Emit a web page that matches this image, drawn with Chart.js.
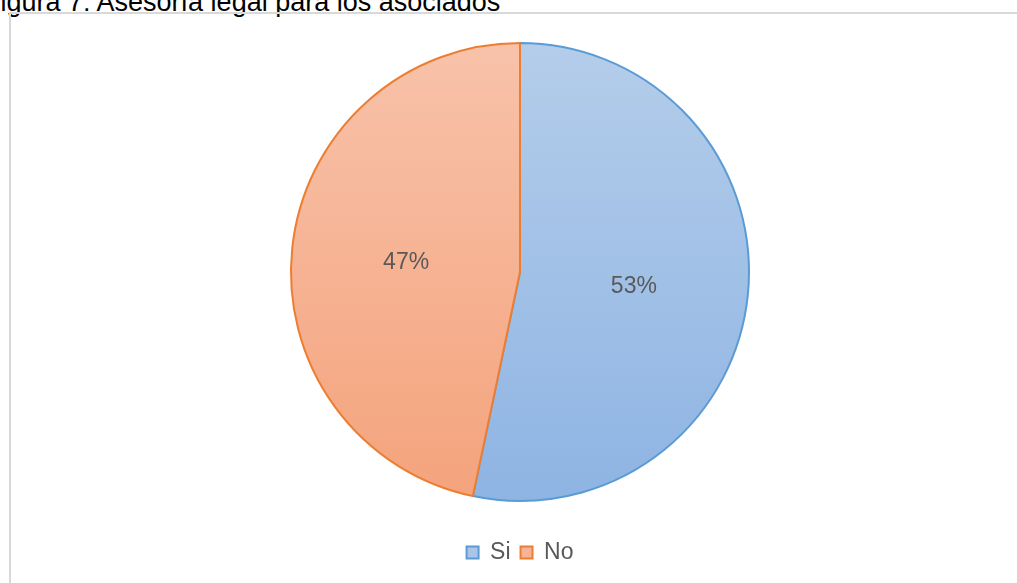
<!DOCTYPE html>
<html>
<head>
<meta charset="utf-8">
<script src="https://cdn.jsdelivr.net/npm/chart.js@4"></script>
<style>
  html, body { margin: 0; padding: 0; background: #fff; overflow: hidden; }
  body { width: 1017px; height: 583px; position: relative; }
  #caption {
    position: absolute; left: -16px; top: -13px;
    font-family: "Liberation Sans", Arial, sans-serif; font-size: 27px;
    color: #000; white-space: nowrap; line-height: 30px;
  }
  #frame {
    position: absolute; left: 9px; top: 12px; width: 1100px; height: 700px;
    border-left: 2px solid #d9d9d9; border-top: 2px solid #d9d9d9;
  }
  #wrap { position: absolute; left: 0; top: 0; width: 1017px; height: 583px; }
</style>
</head>
<body>
<div id="caption">Figura 7: Asesoría legal para los asociados</div>
<div id="frame"></div>
<div id="wrap"><canvas id="myPieChart"></canvas></div>
<script>
// data
const labels = ['Si', 'No'];
const values = [53.3, 46.7];

// colours (Excel style: light gradient fill, darker outline)
const topColors = ['#b4cdea', '#f8c2aa'];
const bottomColors = ['#8eb4e3', '#f4a37c'];
const lineColors = ['#5b9bd5', '#ed7d31'];
const legendFill = ['#a9c5e8', '#f6b398'];

function sliceFill(ctx) {
  const chart = ctx.chart;
  const area = chart.chartArea;
  if (!area) return topColors[ctx.dataIndex];
  const cy = (area.top + area.bottom) / 2;
  const g = chart.ctx.createLinearGradient(0, cy - 229, 0, cy + 229);
  g.addColorStop(0, topColors[ctx.dataIndex]);
  g.addColorStop(1, bottomColors[ctx.dataIndex]);
  return g;
}

// percentage labels in the middle of each slice
const pctLabels = {
  id: 'pctLabels',
  afterDatasetsDraw(chart) {
    const c = chart.ctx;
    const total = values.reduce((a, b) => a + b, 0);
    chart.getDatasetMeta(0).data.forEach((arc, i) => {
      const mid = (arc.startAngle + arc.endAngle) / 2;
      const r = arc.outerRadius * 0.5;
      c.save();
      c.font = '23px "Liberation Sans", Arial, sans-serif';
      c.fillStyle = '#595959';
      c.textAlign = 'center';
      c.textBaseline = 'middle';
      c.fillText(Math.round(values[i] / total * 100) + '%', arc.x + Math.cos(mid) * r, arc.y + Math.sin(mid) * r + 3);
      c.restore();
    });
  }
};

const data = {
  labels: labels,
  datasets: [{
    data: values,
    backgroundColor: sliceFill,
    borderColor: lineColors,
    borderWidth: 2,
    hoverBorderWidth: 2,
    radius: 229
  }]
};

const config = {
  type: 'pie',
  data: data,
  options: {
    responsive: false,
    animation: false,
    layout: { padding: { top: 13, bottom: 9, left: 23, right: 0 } },
    plugins: {
      tooltip: { enabled: false },
      legend: {
        position: 'bottom',
        labels: {
          boxWidth: 12,
          boxHeight: 12,
          padding: 10,
          color: '#595959',
          font: { family: '"Liberation Sans", Arial, sans-serif', size: 23 },
          generateLabels: (chart) => labels.map((l, i) => ({
            text: l,
            fillStyle: legendFill[i],
            strokeStyle: lineColors[i],
            lineWidth: 2,
            fontColor: '#595959',
            index: i
          }))
        }
      }
    }
  },
  plugins: [pctLabels]
};

const canvas = document.getElementById('myPieChart');
canvas.width = 1017;
canvas.height = 583;
const myChart = new Chart(canvas, config);
</script>
</body>
</html>
